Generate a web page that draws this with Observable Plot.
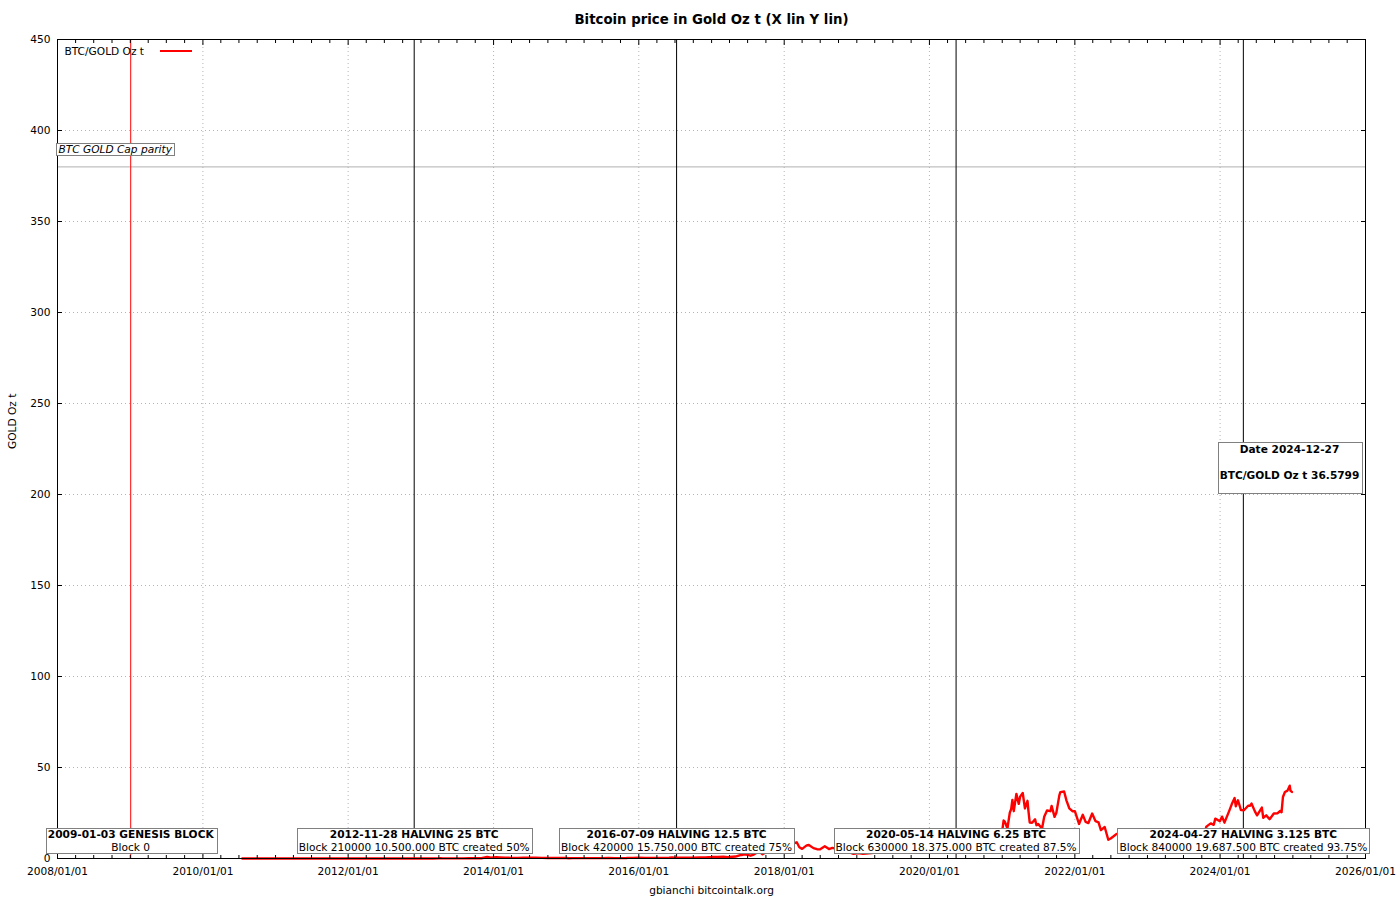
<!DOCTYPE html>
<html>
<head>
<meta charset="utf-8">
<script src="https://cdn.jsdelivr.net/npm/d3@7"></script>
<script src="https://cdn.jsdelivr.net/npm/@observablehq/plot@0.6"></script>
<style>
  body { margin: 0; background: #fff; }
  #chart svg { display: block; }
</style>
</head>
<body>
<div id="chart"></div>
<script>
// ---------------- DATA ----------------
const chartTitle = "Bitcoin price in Gold Oz t (X lin Y lin)";
const yLabel = "GOLD Oz t";
const caption = "gbianchi bitcointalk.org";
const seriesName = "BTC/GOLD Oz t";

const seriesDates = [
  "2010-07-18","2010-08-01","2010-09-01","2010-10-01","2010-11-01","2010-12-01",
  "2011-01-01","2011-02-01","2011-03-01","2011-04-01","2011-05-01","2011-06-01","2011-06-10","2011-07-01","2011-08-01","2011-09-01","2011-10-01","2011-11-01","2011-12-01",
  "2012-01-01","2012-02-01","2012-03-01","2012-04-01","2012-05-01","2012-06-01","2012-07-01","2012-08-01","2012-08-16","2012-09-01","2012-10-01","2012-11-01","2012-12-01",
  "2013-01-01","2013-02-01","2013-03-01","2013-04-01","2013-04-09","2013-04-20","2013-05-01","2013-06-01","2013-07-01","2013-08-01","2013-09-01","2013-10-01","2013-11-01","2013-11-30","2013-12-18","2013-12-31",
  "2014-01-15","2014-02-01","2014-03-01","2014-04-01","2014-05-01","2014-06-01","2014-07-01","2014-08-01","2014-09-01","2014-10-01","2014-11-01","2014-12-01",
  "2015-01-01","2015-01-15","2015-02-01","2015-03-01","2015-04-01","2015-05-01","2015-06-01","2015-07-01","2015-08-01","2015-09-01","2015-10-01","2015-11-01","2015-11-04","2015-12-01",
  "2016-01-01","2016-02-01","2016-03-01","2016-04-01","2016-05-01","2016-06-01","2016-06-17","2016-07-01","2016-08-01","2016-09-01","2016-10-01","2016-11-01","2016-12-01",
  "2017-01-01","2017-01-05","2017-02-01","2017-03-01","2017-03-24","2017-04-01","2017-05-01","2017-05-25","2017-06-01","2017-06-12","2017-07-01","2017-07-16","2017-08-01","2017-08-15","2017-09-01","2017-09-14","2017-10-01","2017-10-20","2017-11-01","2017-11-12","2017-11-28","2017-12-07","2017-12-17","2017-12-22",
  "2018-01-01","2018-01-06","2018-01-15","2018-02-06","2018-02-20","2018-03-05","2018-03-18","2018-04-01","2018-04-24","2018-05-05","2018-05-28","2018-06-15","2018-06-29","2018-07-24","2018-08-14","2018-08-31","2018-09-15","2018-10-15","2018-11-20","2018-12-15","2018-12-31",
  "2019-01-15","2019-02-01","2019-02-15","2019-03-01","2019-03-15","2019-04-01","2019-04-15","2019-05-01","2019-05-15","2019-06-01","2019-06-26","2019-07-01","2019-07-15","2019-08-01","2019-08-15","2019-09-01","2019-09-15","2019-10-01","2019-10-26","2019-11-01","2019-11-25","2019-12-01","2019-12-15",
  "2020-01-01","2020-01-15","2020-02-01","2020-02-13","2020-03-01","2020-03-12","2020-04-01","2020-04-15","2020-05-01","2020-05-15","2020-06-01","2020-06-15","2020-07-01","2020-07-15","2020-08-01","2020-08-15","2020-09-01","2020-09-15",
  "2020-10-01","2020-10-15","2020-11-01","2020-11-15","2020-12-01","2020-12-15",
  "2021-01-01","2021-01-08","2021-01-15","2021-01-27","2021-02-08","2021-02-15","2021-02-21","2021-02-28","2021-03-13","2021-03-25","2021-04-01","2021-04-14","2021-04-25","2021-05-08","2021-05-12","2021-05-19","2021-05-31","2021-06-15","2021-06-22","2021-07-01","2021-07-20","2021-07-31","2021-08-14","2021-08-31","2021-09-06","2021-09-21","2021-09-30","2021-10-15","2021-10-20","2021-11-08","2021-11-20","2021-12-04","2021-12-20",
  "2022-01-01","2022-01-22","2022-02-10","2022-02-24","2022-03-10","2022-03-29","2022-04-15","2022-04-30","2022-05-12","2022-05-31","2022-06-18","2022-06-30","2022-07-15","2022-07-30","2022-08-15","2022-08-31","2022-09-15","2022-09-30","2022-10-15","2022-10-31","2022-11-09","2022-11-30","2022-12-15","2022-12-31",
  "2023-01-15","2023-01-31","2023-02-16","2023-03-10","2023-03-20","2023-04-14","2023-04-30","2023-05-15","2023-05-31","2023-06-15","2023-06-30","2023-07-15","2023-07-31","2023-08-17","2023-08-31","2023-09-15","2023-09-30","2023-10-15","2023-10-24","2023-11-15","2023-11-30","2023-12-08","2023-12-31",
  "2024-01-11","2024-01-23","2024-02-15","2024-02-29","2024-03-14","2024-03-20","2024-03-31","2024-04-15","2024-04-30","2024-05-21","2024-05-31","2024-06-07","2024-06-24","2024-07-05","2024-07-29","2024-08-05","2024-08-20","2024-09-06","2024-09-27","2024-10-15","2024-10-29","2024-11-05","2024-11-12","2024-11-22","2024-12-05","2024-12-16","2024-12-20","2024-12-27"
];
const seriesValues = [
  0.00006,0.00006,0.00005,0.00005,0.00015,0.00016,
  0.00022,0.00053,0.00065,0.00055,0.0025,0.0060,0.0160,0.0106,0.0086,0.0045,0.0031,0.0019,0.0018,
  0.0031,0.0035,0.0029,0.0030,0.0031,0.0033,0.0042,0.0058,0.0082,0.0061,0.0070,0.0064,0.0072,
  0.0080,0.0124,0.0216,0.063,0.148,0.083,0.094,0.092,0.077,0.074,0.105,0.100,0.155,0.91,0.43,0.62,
  0.67,0.64,0.42,0.36,0.34,0.50,0.48,0.45,0.37,0.31,0.28,0.32,
  0.27,0.15,0.18,0.21,0.20,0.20,0.19,0.22,0.26,0.20,0.21,0.29,0.36,0.34,
  0.40,0.33,0.35,0.34,0.35,0.44,0.58,0.50,0.46,0.43,0.46,0.55,0.63,
  0.84,0.92,0.80,0.95,0.74,0.86,1.06,1.88,1.90,2.30,2.00,1.55,2.12,3.20,3.50,2.30,3.40,4.50,5.20,4.70,7.60,12.0,15.2,10.8,
  10.3,12.9,10.1,5.2,8.4,8.9,6.2,5.3,7.2,7.4,5.7,5.1,5.0,6.7,5.2,5.8,5.4,5.3,3.7,2.6,2.9,
  2.8,2.6,2.7,2.9,3.0,3.2,3.9,4.1,6.1,6.5,9.2,7.7,7.2,7.1,6.6,6.3,6.6,5.6,6.7,6.1,4.9,5.2,4.7,
  4.7,5.6,5.9,6.5,5.4,3.1,4.0,4.0,5.1,5.6,5.5,5.3,5.1,5.1,5.7,6.0,5.9,5.7,
  5.6,6.0,7.3,8.5,10.7,10.4,
  15.3,20.9,20.0,16.5,25.2,27.2,32.2,26.0,35.5,30.0,34.0,36.0,27.5,31.7,26.8,19.8,19.6,21.5,18.3,18.9,16.5,22.9,26.4,26.0,28.9,22.9,25.1,34.7,36.5,36.8,31.8,27.6,26.0,
  26.0,19.0,24.0,20.1,19.5,24.7,20.5,19.8,15.6,17.3,10.3,11.0,12.2,13.5,13.5,11.7,11.8,11.7,11.6,12.5,9.3,9.7,9.8,9.0,
  10.9,12.0,13.2,10.8,14.1,15.2,14.7,13.4,13.8,13.1,15.9,15.5,14.9,14.1,13.4,13.8,14.4,14.0,17.5,19.3,18.5,21.9,20.5,
  23.0,19.7,25.9,29.9,33.2,28.7,32.0,26.6,26.5,29.0,29.0,30.2,25.9,23.7,28.0,22.4,23.7,21.6,24.7,24.8,26.1,25.4,33.8,36.5,37.3,40.0,37.2,36.5799
];

const eventDates = ["2009-01-03","2012-11-28","2016-07-09","2020-05-14","2024-04-27"];
const eventKinds = ["genesis","halving","halving","halving","halving"];
const eventTitles = [
  "2009-01-03 GENESIS BLOCK",
  "2012-11-28 HALVING 25 BTC",
  "2016-07-09 HALVING 12.5 BTC",
  "2020-05-14 HALVING 6.25 BTC",
  "2024-04-27 HALVING 3.125 BTC"
];
const eventSubs = [
  "Block 0",
  "Block 210000 10.500.000 BTC created 50%",
  "Block 420000 15.750.000 BTC created 75%",
  "Block 630000 18.375.000 BTC created 87.5%",
  "Block 840000 19.687.500 BTC created 93.75%"
];

const parityValue = 380;
const parityLabel = "BTC GOLD Cap parity";
const lastDateLabel = "Date 2024-12-27";
const lastValueLabel = "BTC/GOLD Oz t 36.5799";

const yTicks = [0, 50, 100, 150, 200, 250, 300, 350, 400, 450];
const xTickYears = [2008, 2010, 2012, 2014, 2016, 2018, 2020, 2022, 2024, 2026];

// ---------------- BUILD ----------------
const parse = d3.utcParse("%Y-%m-%d");
const data = seriesDates.map((d, i) => ({date: parse(d), value: seriesValues[i]}));
const events = eventDates.map((d, i) => ({
  date: parse(d), title: eventTitles[i], sub: eventSubs[i],
  color: eventKinds[i] === "genesis" ? "red" : "black"
}));
const xTicks = xTickYears.map(y => new Date(Date.UTC(y, 0, 1)));
const xDomain = [xTicks[0], xTicks[xTicks.length - 1]];
const minorTicks = d3.utcMonth.every(3).range(xDomain[0], xDomain[1])
  .filter(d => d.getUTCMonth() !== 0 || d.getUTCFullYear() % 2 !== 0);

const FONT = "DejaVu Sans";
const FS = 10.6;
const T = {lineAnchor: "middle", fontSize: FS, text: d => d};

const plot = Plot.plot({
  width: 1400,
  height: 900,
  marginLeft: 57,
  marginRight: 35,
  marginTop: 39,
  marginBottom: 42,
  style: {fontFamily: FONT, fontSize: FS + "px", color: "black", background: "white", overflow: "visible"},
  x: {type: "utc", domain: xDomain},
  y: {domain: [0, 450]},
  marks: [
    Plot.gridX(xTicks.slice(1, -1), {stroke: "#b4b4b4", strokeOpacity: 1, strokeDasharray: "1,3"}),
    Plot.gridY(yTicks.slice(1, -1), {stroke: "#b4b4b4", strokeOpacity: 1, strokeDasharray: "1,3"}),
    Plot.ruleY([parityValue], {stroke: "#b0b0b0", strokeWidth: 1}),
    Plot.ruleX(events, {x: "date", stroke: "color", strokeWidth: 1}),
    Plot.lineY(data, {x: "date", y: "value", stroke: "red", strokeWidth: 2.4}),
    Plot.frame({stroke: "black"}),
    Plot.axisX(xTicks, {anchor: "bottom", tickSize: -5, tickPadding: 14, tickFormat: d3.utcFormat("%Y/%m/%d"), label: null}),
    Plot.axisX(minorTicks, {anchor: "bottom", tickSize: -3, fill: "none", label: null}),
    Plot.axisX(xTicks, {anchor: "top", tickSize: -5, fill: "none", label: null}),
    Plot.axisX(minorTicks, {anchor: "top", tickSize: -3, fill: "none", label: null}),
    Plot.axisY(yTicks, {anchor: "left", tickSize: -5, tickPadding: 12, label: null}),
    Plot.axisY(yTicks, {anchor: "right", tickSize: -5, fill: "none", label: null}),
    // [0] y label
    Plot.text([yLabel], {...T, frameAnchor: "left", dx: -45, rotate: -90}),
    // [1] title, [2] caption
    Plot.text([chartTitle], {...T, frameAnchor: "top", dy: -20, fontWeight: "bold", fontSize: 13.3}),
    Plot.text([caption], {...T, frameAnchor: "bottom", dy: 32}),
    // [3] legend
    Plot.text([seriesName], {...T, frameAnchor: "top-left", dx: 7, dy: 12, textAnchor: "start"}),
    // [4] parity label
    Plot.text([parityLabel], {...T, x: () => xDomain[0], y: () => parityValue, dx: 1, dy: -17, textAnchor: "start", fontStyle: "italic"}),
    // [5],[6] last value box
    Plot.text([lastDateLabel], {...T, frameAnchor: "right", textAnchor: "middle", dx: -76, dy: 0.5, fontWeight: "bold"}),
    Plot.text([lastValueLabel], {...T, frameAnchor: "right", textAnchor: "middle", dx: -76, dy: 26.5, fontWeight: "bold"}),
    // [7],[8] event annotations
    Plot.text(events, {x: "date", frameAnchor: "bottom", lineAnchor: "middle", dy: -24, text: "title", fontWeight: "bold", fontSize: FS}),
    Plot.text(events, {x: "date", frameAnchor: "bottom", lineAnchor: "middle", dy: -11, text: "sub", fontSize: FS})
  ]
});

document.getElementById("chart").appendChild(plot);

// ---------- decoration: boxes behind labels, legend swatch ----------
const svg = d3.select(plot);
const svgRect = plot.getBoundingClientRect();
const textGroups = Array.from(plot.querySelectorAll(':scope > g[aria-label="text"]'));
function rel(r) {
  return {x0: r.left - svgRect.left, y0: r.top - svgRect.top, x1: r.right - svgRect.left, y1: r.bottom - svgRect.top};
}
function addBoxes(idx, pad) {
  const groups = idx.map(i => textGroups[i]);
  const texts = groups.map(g => Array.from(g.querySelectorAll("text")));
  const n = texts[0].length;
  for (let i = 0; i < n; i++) {
    let b = null;
    for (const t of texts) {
      const r = rel(t[i].getBoundingClientRect());
      b = b ? {x0: Math.min(b.x0, r.x0), y0: Math.min(b.y0, r.y0), x1: Math.max(b.x1, r.x1), y1: Math.max(b.y1, r.y1)} : r;
    }
    const rect = document.createElementNS("http://www.w3.org/2000/svg", "rect");
    rect.setAttribute("x", Math.round(b.x0 - pad.l) + 0.5);
    rect.setAttribute("y", Math.round(b.y0 - pad.t) + 0.5);
    rect.setAttribute("width", Math.round(b.x1 - b.x0 + pad.l + pad.r));
    rect.setAttribute("height", Math.round(b.y1 - b.y0 + pad.t + pad.b));
    rect.setAttribute("fill", "white");
    rect.setAttribute("stroke", "#808080");
    rect.setAttribute("stroke-width", "1");
    groups[0].parentNode.insertBefore(rect, groups[0]);
  }
}
addBoxes([7, 8], {l: 2, r: 2, t: 0, b: 0});
addBoxes([4], {l: 3, r: 1, t: 0, b: 0});
addBoxes([5, 6], {l: 2, r: 2, t: 1, b: 12});

// legend swatch
const lt = textGroups[3].querySelector("text");
const lr = rel(lt.getBoundingClientRect());
const cy = Math.round((lr.y0 + lr.y1) / 2);
svg.append("line")
  .attr("x1", lr.x1 + 16).attr("x2", lr.x1 + 48)
  .attr("y1", cy).attr("y2", cy)
  .attr("stroke", "red").attr("stroke-width", 2);
</script>
</body>
</html>
